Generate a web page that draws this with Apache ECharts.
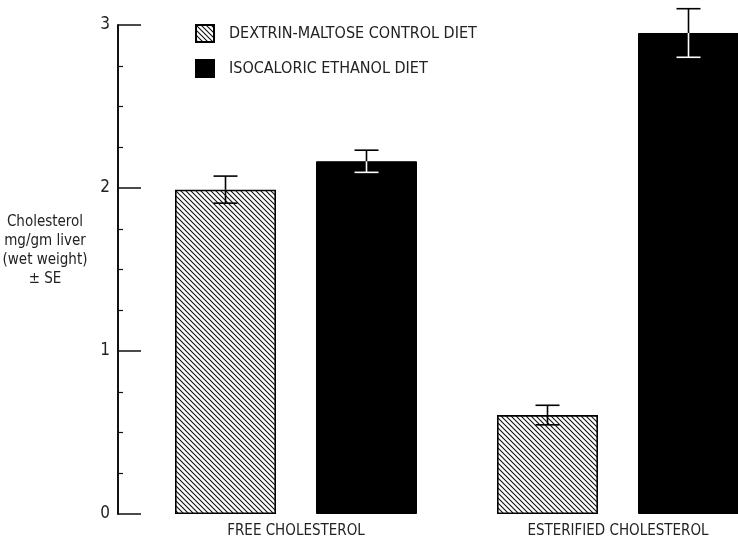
<!DOCTYPE html>
<html>
<head>
<meta charset="utf-8">
<script src="https://cdn.jsdelivr.net/npm/echarts@6/dist/echarts.min.js"></script>
<style>
html,body{margin:0;padding:0;background:#fff;}
#chart{width:738px;height:538px;}
</style>
</head>
<body>
<div id="chart"></div>
<script>
// ---- data ----
const categories = ['FREE CHOLESTEROL', 'ESTERIFIED CHOLESTEROL'];
const seriesNames = ['DEXTRIN-MALTOSE CONTROL DIET', 'ISOCALORIC ETHANOL DIET'];
const controlMeans = [1.99, 0.607];
const controlSE = [0.083, 0.06];
const ethanolMeans = [2.164, 2.951];
const ethanolSE = [0.068, 0.149];
const yAxisMin = 0, yAxisMax = 3, yAxisInterval = 1;
const yAxisTitle = 'Cholesterol\nmg/gm liver\n(wet weight)\n\u00b1 SE';

// ---- style ----
const FONT = "'Liberation Sans Narrow', 'DejaVu Sans Condensed', 'Arial Narrow', sans-serif";
const BAR_W = 101;
const BAR_GAP_PX = 40;
const CAP = 12;

function hatch() {
  const s = 5;
  const c = document.createElement('canvas');
  c.width = s; c.height = s;
  const g = c.getContext('2d');
  g.fillStyle = '#fff';
  g.fillRect(0, 0, s, s);
  g.strokeStyle = '#111';
  g.lineWidth = 1.1;
  g.beginPath();
  g.moveTo(-1, -1); g.lineTo(s + 1, s + 1);
  g.moveTo(-1, s - 1); g.lineTo(1, s + 1);
  g.moveTo(s - 1, -1); g.lineTo(s + 1, 1);
  g.stroke();
  return c;
}

function errData(means, se) {
  return means.map((m, i) => [i, m, se[i]]);
}

function errRender(side, innerColor) {
  return function (params, api) {
    const i = api.value(0), m = api.value(1), s = api.value(2);
    const c = api.coord([i, m]);
    const t = api.coord([i, m + s]);
    const b = api.coord([i, m - s]);
    const x = c[0] + side * (BAR_W + BAR_GAP_PX) / 2;
    const outer = { stroke: '#000', lineWidth: 1.6 };
    const inner = { stroke: innerColor, lineWidth: 1.6 };
    return {
      type: 'group',
      children: [
        { type: 'line', shape: { x1: x, y1: t[1], x2: x, y2: c[1] }, style: outer },
        { type: 'line', shape: { x1: x - CAP, y1: t[1], x2: x + CAP, y2: t[1] }, style: outer },
        { type: 'line', shape: { x1: x, y1: c[1], x2: x, y2: b[1] }, style: inner },
        { type: 'line', shape: { x1: x - CAP, y1: b[1], x2: x + CAP, y2: b[1] }, style: inner }
      ]
    };
  };
}

const chart = echarts.init(document.getElementById('chart'), null, { renderer: 'canvas' });
chart.setOption({
  animation: false,
  backgroundColor: '#fff',
  textStyle: { fontFamily: FONT, color: '#222' },
  title: {
    text: yAxisTitle,
    left: 45,
    top: 213,
    textAlign: 'center',
    padding: 0,
    textStyle: { fontFamily: FONT, fontSize: 15, fontWeight: 'normal', color: '#222', lineHeight: 19 }
  },
  grid: { left: 135, right: -41, top: 25, bottom: 24, containLabel: false, outerBoundsMode: 'none' },
  legend: {
    data: seriesNames,
    orient: 'vertical',
    left: 195,
    top: 24,
    padding: 0,
    itemWidth: 18,
    itemHeight: 17,
    itemGap: 16,
    icon: 'rect',
    textStyle: { fontFamily: FONT, fontSize: 16, color: '#222', padding: [0, 0, 0, 10] }
  },
  xAxis: {
    type: 'category',
    data: categories,
    axisLine: { show: false },
    axisTick: { show: false },
    axisLabel: { fontFamily: FONT, fontSize: 15, color: '#222', margin: 10 }
  },
  yAxis: {
    type: 'value',
    min: yAxisMin,
    max: yAxisMax,
    interval: yAxisInterval,
    offset: 17,
    axisLine: { show: true, lineStyle: { color: '#111', width: 2 } },
    axisTick: { show: true, inside: true, length: 23, lineStyle: { color: '#111', width: 1.5 } },
    minorTick: { show: true, splitNumber: 4, length: 5, lineStyle: { color: '#111', width: 1.2 } },
    axisLabel: { fontFamily: FONT, fontSize: 17, color: '#222', margin: 8 },
    splitLine: { show: false }
  },
  series: [
    {
      name: seriesNames[0],
      type: 'bar',
      data: controlMeans,
      barWidth: BAR_W,
      barGap: (BAR_GAP_PX / BAR_W * 100) + '%',
      itemStyle: { color: { image: hatch(), repeat: 'repeat' }, borderColor: '#000', borderWidth: 1.6 }
    },
    {
      name: seriesNames[1],
      type: 'bar',
      data: ethanolMeans,
      barWidth: BAR_W,
      itemStyle: { color: '#000', borderColor: '#000', borderWidth: 1 }
    },
    {
      type: 'custom',
      data: errData(controlMeans, controlSE),
      renderItem: errRender(-1, '#000'),
      silent: true,
      z: 5
    },
    {
      type: 'custom',
      data: errData(ethanolMeans, ethanolSE),
      renderItem: errRender(1, '#fff'),
      silent: true,
      z: 5
    }
  ]
});
</script>
</body>
</html>
